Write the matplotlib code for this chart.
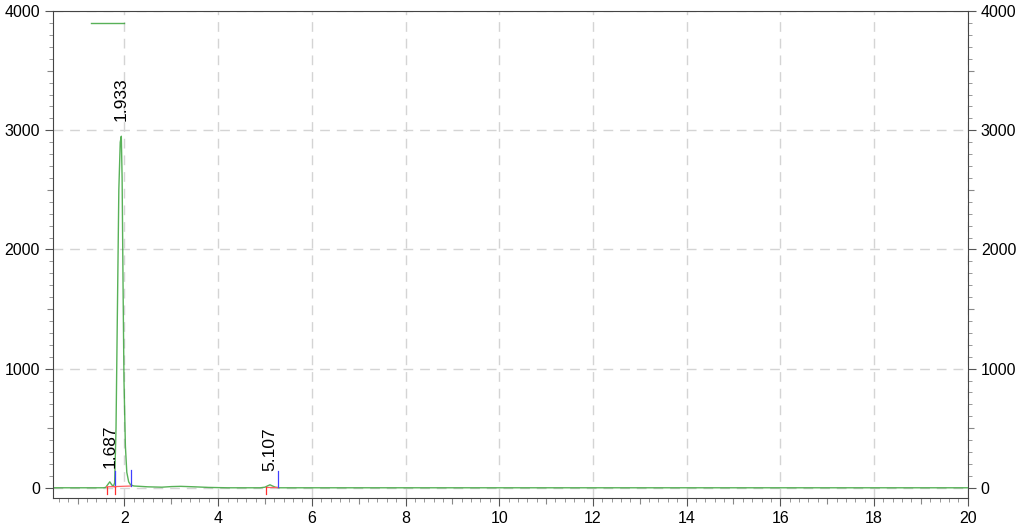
import numpy as np
import matplotlib.pyplot as plt
from matplotlib.ticker import MultipleLocator

plt.rcParams['font.family'] = ['Liberation Sans', 'DejaVu Sans']

# chromatogram trace (time in min, signal)
time = [0.5, 1.55, 1.60, 1.64, 1.687, 1.72, 1.76, 1.79, 1.82, 1.85, 1.88,
        1.91, 1.933, 1.95, 1.97, 1.99, 2.02, 2.05, 2.09, 2.13, 2.2, 2.5,
        2.8, 3.0, 3.2, 3.5, 3.8, 4.2, 4.9, 5.0, 5.05, 5.107, 5.16, 5.22,
        5.3, 8.0, 12.0, 16.0, 20.0]
signal = [0, 0, 3, 25, 50, 30, 10, 40, 500, 1500, 2500,
          2900, 2950, 2600, 1700, 900, 350, 130, 50, 25, 15, 8,
          5, 10, 12, 8, 3, 0, 0, 5, 15, 25, 15, 5,
          0, 0, 0, 0, 0]

# peak labels
peak_times = [1.687, 1.933, 5.107]
peak_labels = ["1.687", "1.933", "5.107"]
label_y = [170, 3080, 140]

# integration marks: start (red), end (blue)
peak_start = [1.62, 1.79, 5.02]
peak_end = [1.79, 2.15, 5.27]
base_start = [8, 10, 5]
base_end = [10, 15, 5]
end_height = [140, 150, 140]

# program segment at the top
seg_x = [1.28, 2.0]
seg_y = [3900, 3900]

fig = plt.figure(figsize=(10.24, 5.29), dpi=100)
ax = fig.add_axes([0.052, 0.059, 0.893, 0.920])

ax.grid(True, which='major', color='#d4d4d4', linestyle=(0, (7, 5)), lw=1.0)
ax.set_axisbelow(True)

ax.plot(time, signal, color='#2e9e2e', lw=1.0, alpha=0.8)
ax.plot(seg_x, seg_y, color='#2e9e2e', lw=1.0, alpha=0.8)

for s, e, b0, b1, h in zip(peak_start, peak_end, base_start, base_end, end_height):
    ax.plot([s, e], [b0, b1], color='#ff6060', lw=0.9)
    ax.plot([s, s], [b0, -50], color='#ff3030', lw=0.9)
    ax.plot([e, e], [b1, h], color='#4040ff', lw=0.9)

for t, lab, ly in zip(peak_times, peak_labels, label_y):
    ax.text(t, ly, lab, rotation=90, ha='center', va='bottom', fontsize=12.5)

ax.set_xlim(0.48, 20)
ax.set_ylim(-84, 4000)

ax.xaxis.set_major_locator(MultipleLocator(2))
ax.xaxis.set_minor_locator(MultipleLocator(0.2))
ax.yaxis.set_major_locator(MultipleLocator(1000))
ax.yaxis.set_minor_locator(MultipleLocator(100))

ax.tick_params(which='both', direction='out', labelsize=11.5, color='#555555')
ax.tick_params(which='major', length=6)
ax.tick_params(which='minor', length=3, color='#888888')
ax.tick_params(axis='y', which='both', right=True, labelright=True)

# medium ticks at odd minutes and half thousands
secx = ax.secondary_xaxis('bottom')
secx.set_xticks(np.arange(1, 20, 2))
secx.tick_params(length=4.5, labelbottom=False, color='#888888')
for side in ['left', 'right']:
    secy = ax.secondary_yaxis(side)
    secy.set_yticks(np.arange(500, 4000, 1000))
    secy.tick_params(length=4.5, labelleft=False, labelright=False, color='#888888')
    secy.spines[side].set_visible(False)
secx.spines['bottom'].set_visible(False)

for sp in ax.spines.values():
    sp.set_color('#444444')

fig.savefig("out.png", dpi=100)
